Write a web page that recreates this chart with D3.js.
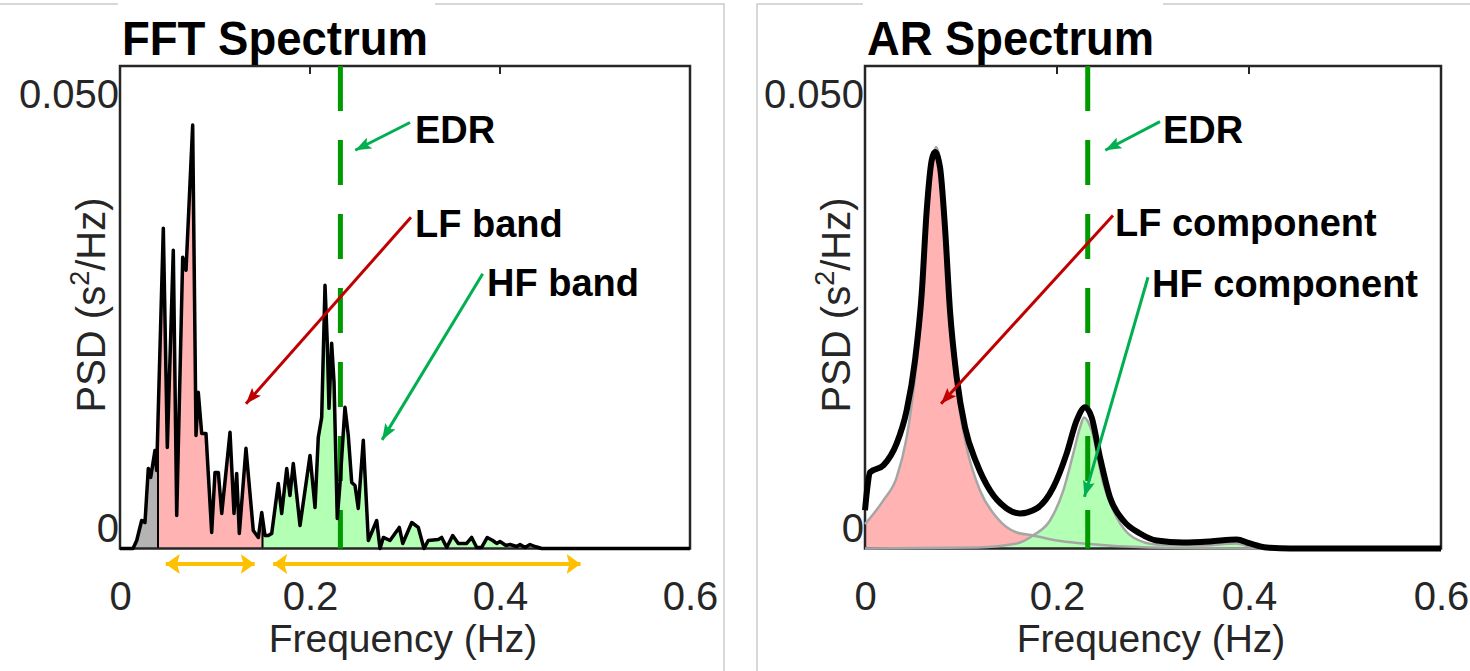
<!DOCTYPE html>
<html>
<head>
<meta charset="utf-8">
<script src="https://cdn.jsdelivr.net/npm/d3@7"></script>
<style>
  body { margin: 0; background: #fff; }
  text { font-family: "Liberation Sans", Arial, sans-serif; }
</style>
</head>
<body>
<svg id="chart" width="1470" height="671"></svg>
<script>
// ---- data (Hz, s^2/Hz) ----
const fftFreq = [0, 0.0137, 0.0176, 0.0228, 0.0263, 0.0298, 0.0323, 0.0368, 0.0386, 0.0400,
  0.0456, 0.0498, 0.0561, 0.0597, 0.0660, 0.0695, 0.0765, 0.0800, 0.0824, 0.0860,
  0.0905, 0.0965, 0.1000, 0.1035, 0.1071, 0.1158, 0.1200, 0.1228, 0.1256, 0.1326,
  0.1403, 0.1456, 0.1492, 0.1526, 0.1561, 0.1597, 0.1666, 0.1702, 0.1755, 0.1789,
  0.1824, 0.1895, 0.2000, 0.2053, 0.2087, 0.2123, 0.2158, 0.2182, 0.2200, 0.2228,
  0.2253, 0.2287, 0.2316, 0.2368, 0.2403, 0.2439, 0.2474, 0.2508, 0.2561, 0.2614,
  0.2702, 0.2737, 0.2772, 0.2842, 0.2940, 0.2976, 0.3071, 0.3140, 0.3200, 0.3245,
  0.3350, 0.3386, 0.3439, 0.3502, 0.3561, 0.3649, 0.3702, 0.3755, 0.3807, 0.3866,
  0.3923, 0.3965, 0.4000, 0.4063, 0.4105, 0.4176, 0.4211, 0.4263, 0.4316, 0.4368,
  0.4439, 0.4632, 0.6];
const fftPsd = [0, 0, 0.00092, 0.00322, 0.00299, 0.00921, 0.00818, 0.01128, 0.00898, 0.01474,
  0.03685, 0.01163, 0.03431, 0.00380, 0.03351, 0.03201, 0.04871, 0.01301, 0.01796, 0.01324,
  0.01324, 0.00184, 0.00875, 0.00875, 0.00403, 0.01336, 0.00403, 0.00864, 0.00173, 0.01152,
  0.00207, 0.00127, 0.00415, 0.00150, 0.00150, 0.00173, 0.00748, 0.00403, 0.00921, 0.00610,
  0.00979, 0.00265, 0.01071, 0.00472, 0.01278, 0.01508, 0.03028, 0.02361, 0.01612, 0.02361,
  0.01911, 0.00345, 0.00748, 0.01624, 0.01301, 0.00760, 0.00725, 0.00461, 0.01244, 0.00092,
  0.00322, 0, 0.00127, 0.00092, 0.00242, 0.00058, 0.00299, 0.00242, 0, 0.00092,
  0.00104, 0.00127, 0.00012, 0.00150, 0.00058, 0.00058, 0.00127, 0.00012, 0.00012, 0.00127,
  0.00092, 0.00058, 0.00081, 0.00035, 0.00046, 0.00023, 0.00046, 0.00012, 0.00046, 0.00023,
  0, 0, 0];

const arFreq = [0, 0.0021, 0.0052, 0.0191, 0.0330, 0.0434, 0.0521, 0.0591, 0.0643, 0.0695,
  0.0729, 0.0781, 0.0833, 0.0885, 0.0955, 0.1042, 0.1164, 0.1302, 0.1476, 0.1615,
  0.1789, 0.1961, 0.2101, 0.2205, 0.2292, 0.2361, 0.2448, 0.2552, 0.2691, 0.2865,
  0.3039, 0.3316, 0.3594, 0.3872, 0.4010, 0.4184, 0.4427, 0.6];
const arTotal = [0.0044, 0.00668, 0.00875, 0.00956, 0.01209, 0.01589, 0.02165, 0.02936, 0.03892, 0.04468,
  0.04560, 0.04387, 0.03696, 0.02741, 0.01969, 0.01393, 0.00979, 0.00668, 0.00461, 0.00403,
  0.00461, 0.00702, 0.01094, 0.01474, 0.01624, 0.01508, 0.01048, 0.00587, 0.00322, 0.00173,
  0.00092, 0.00069, 0.00081, 0.00104, 0.00058, 0.00012, 0, 0];

const arLfFreq = [0, 0.0191, 0.0330, 0.0434, 0.0521, 0.0591, 0.0649, 0.0705, 0.0740, 0.0799,
  0.0851, 0.0903, 0.0972, 0.1059, 0.1198, 0.1372, 0.1580, 0.1753, 0.1997, 0.2271,
  0.2969, 0.4010, 0.6];
const arLfPsd = [0.0028, 0.00553, 0.00818, 0.01278, 0.01969, 0.02775, 0.03777, 0.04468, 0.04618, 0.04318,
  0.03466, 0.02476, 0.01704, 0.01163, 0.00668, 0.00357, 0.00184, 0.00150, 0.00092, 0.00058,
  0.00012, 0, 0];

const arHfFreq = [0, 0.1164, 0.1580, 0.1750, 0.1927, 0.2066, 0.2170, 0.2240, 0.2281, 0.2361,
  0.2482, 0.2622, 0.2795, 0.3039, 0.3490, 0.3872, 0.4010, 0.4354, 0.6];
const arHfPsd = [0, 0.00012, 0.00058, 0.00150, 0.00322, 0.00668, 0.01094, 0.01393, 0.01508, 0.01359,
  0.00748, 0.00357, 0.00127, 0.00046, 0.00035, 0.00058, 0.00023, 0, 0];

const vlfBand = [0, 0.04];
const lfBand = [0.04, 0.15];
const hfBand = [0.15, 0.5];
const lfArrow = [0.044, 0.146];
const hfArrow = [0.157, 0.489];
const edrFreq = 0.232;

const xTicks = [0, 0.2, 0.4, 0.6];
const yTicks = [0, 0.05];
const yTickLabels = ["0", "0.050"];

// annotations: text anchor [f, psd], arrow from -> to
const fftNotes = [
  {label: "EDR", text: [0.3105, 0.0466], from: [0.3053, 0.0490], to: [0.2439, 0.0456], color: "#00b050"},
  {label: "LF band", text: [0.3105, 0.0358], from: [0.3063, 0.0381], to: [0.1298, 0.0163], color: "#c00000"},
  {label: "HF band", text: [0.3863, 0.0291], from: [0.3818, 0.0316], to: [0.2737, 0.0121], color: "#00b050"}
];
const arNotes = [
  {label: "EDR", text: [0.3104, 0.0466], from: [0.3073, 0.0491], to: [0.2466, 0.0456], color: "#00b050"},
  {label: "LF component", text: [0.2604, 0.0359], from: [0.2583, 0.0383], to: [0.0764, 0.0163], color: "#c00000"},
  {label: "HF component", text: [0.2990, 0.0289], from: [0.2948, 0.0312], to: [0.2274, 0.0055], color: "#00b050"}
];

const axisColor = "#262626";
const svg = d3.select("#chart");
svg.append("rect").attr("width", 1470).attr("height", 671).attr("fill", "#fff");

const defs = svg.append("defs");
function marker(id, color, w, h) {
  defs.append("marker")
    .attr("id", id)
    .attr("viewBox", `0 0 ${w} ${h}`)
    .attr("refX", w).attr("refY", h / 2)
    .attr("markerWidth", w).attr("markerHeight", h)
    .attr("markerUnits", "userSpaceOnUse")
    .attr("orient", "auto-start-reverse")
    .append("path")
    .attr("d", `M0,0 L${w},${h / 2} L0,${h} L${w * 0.2},${h / 2} Z`)
    .attr("fill", color);
}
marker("arrGreen", "#00b050", 16, 12);
marker("arrRed", "#c00000", 16, 12);
marker("arrOrange", "#ffc000", 14, 20);

function drawPanel(cfg) {
  const g = svg.append("g");
  const x = d3.scaleLinear().domain([0, 0.6]).range([cfg.left, cfg.right]);
  const y = d3.scaleLinear().domain([0, 0.0555]).range([548.5, 66]);

  // light frame around the panel, title sits on a white patch over it
  g.append("rect")
    .attr("x", cfg.frame[0]).attr("y", 4)
    .attr("width", cfg.frame[1] - cfg.frame[0]).attr("height", 700)
    .attr("fill", "none").attr("stroke", "#cccccc").attr("stroke-width", 1.5);
  g.append("rect")
    .attr("x", cfg.left - 2).attr("y", 0)
    .attr("width", cfg.titleW).attr("height", 60)
    .attr("fill", "#fff");

  // inward ticks (top + bottom), below the data
  xTicks.slice(1, -1).forEach(t => {
    g.append("line").attr("x1", x(t)).attr("x2", x(t)).attr("y1", 66).attr("y2", 74)
      .attr("stroke", axisColor).attr("stroke-width", 2);
    g.append("line").attr("x1", x(t)).attr("x2", x(t)).attr("y1", 548.5).attr("y2", 540)
      .attr("stroke", axisColor).attr("stroke-width", 2);
  });

  cfg.drawData(g, x, y);

  // box
  g.append("rect")
    .attr("x", cfg.left).attr("y", 66)
    .attr("width", cfg.right - cfg.left).attr("height", 548.5 - 66)
    .attr("fill", "none").attr("stroke", axisColor).attr("stroke-width", 2.5);

  cfg.drawCurve(g, x, y);

  // axes text
  const xAxis = g.append("g")
    .attr("transform", "translate(0,610)")
    .call(d3.axisBottom(x).tickValues(xTicks).tickSize(0)
      .tickFormat(d => d === 0 ? "0" : d.toFixed(1)));
  xAxis.select(".domain").remove();
  xAxis.selectAll("text").attr("y", 0).attr("dy", 0)
    .attr("font-size", 40).attr("fill", axisColor).attr("font-family", "Liberation Sans, Arial");

  const yAxis = g.append("g")
    .attr("transform", `translate(${cfg.left - 1},0)`)
    .call(d3.axisLeft(y).tickValues(yTicks).tickSize(0)
      .tickFormat((d, i) => yTickLabels[i]));
  yAxis.select(".domain").remove();
  yAxis.selectAll("text").attr("x", 0).attr("dy", "0.36em")
    .attr("transform", "translate(0,-21)")
    .attr("font-size", 40).attr("fill", axisColor).attr("font-family", "Liberation Sans, Arial");

  g.append("text")
    .attr("x", (cfg.left + cfg.right) / 2 - 2).attr("y", 652)
    .attr("text-anchor", "middle").attr("font-size", 39).attr("fill", axisColor)
    .text("Frequency (Hz)");

  const yl = g.append("text")
    .attr("transform", `translate(${cfg.left - 15},305) rotate(-90)`)
    .attr("text-anchor", "middle").attr("font-size", 40).attr("fill", axisColor);
  yl.append("tspan").text("PSD (s");
  yl.append("tspan").attr("font-size", 27).attr("dy", -16).text("2");
  yl.append("tspan").attr("dy", 16).text("/Hz)");

  // title
  g.append("text")
    .attr("x", cfg.left + 2).attr("y", 55)
    .attr("font-size", 48).attr("font-weight", "bold").attr("fill", "#000")
    .attr("textLength", cfg.titleLen).attr("lengthAdjust", "spacingAndGlyphs")
    .text(cfg.title);

  // annotations
  cfg.notes.forEach(n => {
    const x1 = x(n.from[0]), y1 = y(n.from[1]);
    const x2 = x(n.to[0]), y2 = y(n.to[1]);
    const len = Math.hypot(x2 - x1, y2 - y1);
    const k = (len - 4) / len;
    g.append("line")
      .attr("x1", x1).attr("y1", y1)
      .attr("x2", x1 + (x2 - x1) * k).attr("y2", y1 + (y2 - y1) * k)
      .attr("stroke", n.color).attr("stroke-width", 3)
      .attr("marker-end", n.color === "#c00000" ? "url(#arrRed)" : "url(#arrGreen)");
    g.append("text")
      .attr("x", x(n.text[0])).attr("y", y(n.text[1]))
      .attr("font-size", 38).attr("font-weight", "bold").attr("fill", "#000")
      .text(n.label);
  });

  if (cfg.bandArrows) {
    cfg.bandArrows.forEach(b => {
      g.append("line")
        .attr("x1", x(b[0]) + 4).attr("x2", x(b[1]) - 4)
        .attr("y1", 564).attr("y2", 564)
        .attr("stroke", "#ffc000").attr("stroke-width", 4)
        .attr("marker-start", "url(#arrOrange)")
        .attr("marker-end", "url(#arrOrange)");
    });
  }
}

function edrLine(g, x, y) {
  g.append("line")
    .attr("x1", x(edrFreq)).attr("x2", x(edrFreq))
    .attr("y1", 66).attr("y2", 548.5)
    .attr("stroke", "#009a00").attr("stroke-width", 5)
    .attr("stroke-dasharray", "45,29");
}

// FFT panel
const fftData = fftFreq.map((f, i) => ({f, p: fftPsd[i]}));
drawPanel({
  left: 120, right: 690, frame: [-5, 724], titleW: 317, titleLen: 306,
  title: "FFT Spectrum", notes: fftNotes, bandArrows: [lfArrow, hfArrow],
  drawData(g, x, y) {
    const area = d3.area().x(d => x(d.f)).y0(y(0)).y1(d => y(d.p));
    const interp = d3.scaleLinear().domain(fftFreq).range(fftPsd);
    [[vlfBand, "#b4b4b4", "cVlf"], [lfBand, "#ffb3b3", "cLf"], [hfBand, "#b3ffb3", "cHf"]].forEach(([b, c, id]) => {
      defs.append("clipPath").attr("id", id).append("rect")
        .attr("x", x(b[0])).attr("y", 0).attr("width", x(b[1]) - x(b[0])).attr("height", 671);
      g.append("path").datum(fftData).attr("d", area).attr("fill", c).attr("clip-path", `url(#${id})`);
      // band edge line
      if (b[0] > 0) {
        g.append("line").attr("x1", x(b[0])).attr("x2", x(b[0]))
          .attr("y1", y(0)).attr("y2", y(interp(b[0])))
          .attr("stroke", "#000").attr("stroke-width", 2);
      }
    });
  },
  drawCurve(g, x, y) {
    edrLine(g, x, y);
    g.append("path").datum(fftData)
      .attr("d", d3.line().x(d => x(d.f)).y(d => y(d.p)))
      .attr("fill", "none").attr("stroke", "#000").attr("stroke-width", 3.5)
      .attr("stroke-linejoin", "round");
  }
});

// AR panel
const arData = arFreq.map((f, i) => ({f, p: arTotal[i]}));
const lfData = arLfFreq.map((f, i) => ({f, p: arLfPsd[i]}));
const hfData = arHfFreq.map((f, i) => ({f, p: arHfPsd[i]}));
drawPanel({
  left: 865, right: 1441, frame: [757, 1480], titleW: 300, titleLen: 287,
  title: "AR Spectrum", notes: arNotes,
  drawData(g, x, y) {
    const area = d3.area().curve(d3.curveMonotoneX).x(d => x(d.f)).y0(y(0)).y1(d => y(d.p));
    g.append("path").datum(lfData).attr("d", area).attr("fill", "#ffb3b3");
    g.append("path").datum(hfData).attr("d", area).attr("fill", "#b3ffb3");
  },
  drawCurve(g, x, y) {
    const line = d3.line().curve(d3.curveMonotoneX).x(d => x(d.f)).y(d => y(d.p));
    [lfData, hfData].forEach(d => {
      g.append("path").datum(d).attr("d", line)
        .attr("fill", "none").attr("stroke", "#a6a6a6").attr("stroke-width", 2.5);
    });
    edrLine(g, x, y);
    g.append("path").datum(arData).attr("d", line)
      .attr("fill", "none").attr("stroke", "#000").attr("stroke-width", 6)
      .attr("stroke-linejoin", "round");
  }
});
</script>
</body>
</html>
